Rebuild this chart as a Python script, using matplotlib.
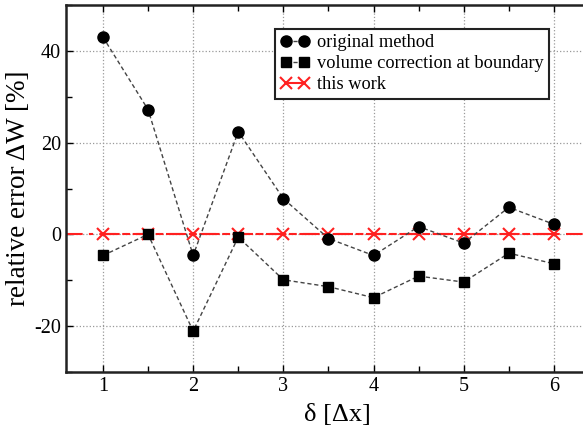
import matplotlib
matplotlib.use("Agg")
import matplotlib.pyplot as plt
from matplotlib.ticker import MultipleLocator

plt.rcParams["font.family"] = ["Liberation Serif", "DejaVu Serif"]
plt.rcParams["mathtext.fontset"] = "stix"
plt.rcParams["axes.unicode_minus"] = False

# datos
delta = [1.0, 1.5, 2.0, 2.5, 3.0, 3.5, 4.0, 4.5, 5.0, 5.5, 6.0]
original = [43.0, 27.2, -4.6, 22.4, 7.8, -0.9, -4.6, 1.7, -1.9, 5.9, 2.2]
volumen = [-4.6, 0.0, -21.1, -0.6, -9.9, -11.4, -13.8, -9.1, -10.4, -4.1, -6.4]
este_trabajo = [0.0] * len(delta)

fig = plt.figure(figsize=(5.83, 4.29), dpi=100)
ax = fig.add_axes([0.1132, 0.1329, 0.9297, 0.8554])

ax.axhline(este_trabajo[0], color="#ff2020", lw=1.5, dashes=(8, 3, 2, 3), zorder=2)
ax.plot(delta, este_trabajo, color="#ff2020", lw=1.5, dashes=(8, 3, 2, 3),
        marker="x", ms=8, mew=1.5, label="this work", zorder=3)
ax.plot(delta, original, color="#444444", lw=1, dashes=(3, 2),
        marker="o", ms=8, mfc="black", mec="black", label="original method", zorder=4)
ax.plot(delta, volumen, color="#444444", lw=1, dashes=(3, 2),
        marker="s", ms=7, mfc="black", mec="black",
        label="volume correction at boundary", zorder=4)

ax.set_xlim(0.59, 6.6)
ax.set_ylim(-30, 50)
ax.xaxis.set_major_locator(MultipleLocator(1))
ax.xaxis.set_minor_locator(MultipleLocator(0.5))
ax.yaxis.set_major_locator(MultipleLocator(20))
ax.yaxis.set_minor_locator(MultipleLocator(10))
ax.set_xticks([1, 2, 3, 4, 5, 6])
ax.tick_params(which="both", direction="in", top=True, right=False, labelsize=14.5)
ax.tick_params(which="major", length=5, width=1)
ax.tick_params(which="minor", length=4, width=1)
ax.grid(True, which="major", ls=":", color="#999999", lw=0.9)
for s in ax.spines.values():
    s.set_linewidth(1.8)
    s.set_color("#222222")
# el borde derecho queda fuera de la imagen en la original
ax.spines["right"].set_visible(False)

ax.set_xlabel("δ [Δx]", fontsize=19, labelpad=6)
ax.set_ylabel("relative error ΔW [%]", fontsize=19.5, labelpad=2)

h, l = ax.get_legend_handles_labels()
orden = [1, 2, 0]
leg = ax.legend([h[i] for i in orden], [l[i] for i in orden],
                loc="upper left", bbox_to_anchor=(0.385, 0.935), fontsize=13.2,
                numpoints=2, fancybox=False, framealpha=1, edgecolor="#222222",
                handlelength=1.6, handletextpad=0.4, borderpad=0.3, labelspacing=0.22,
                borderaxespad=0)
leg.get_frame().set_linewidth(1.5)

fig.savefig("out.png", dpi=100)
